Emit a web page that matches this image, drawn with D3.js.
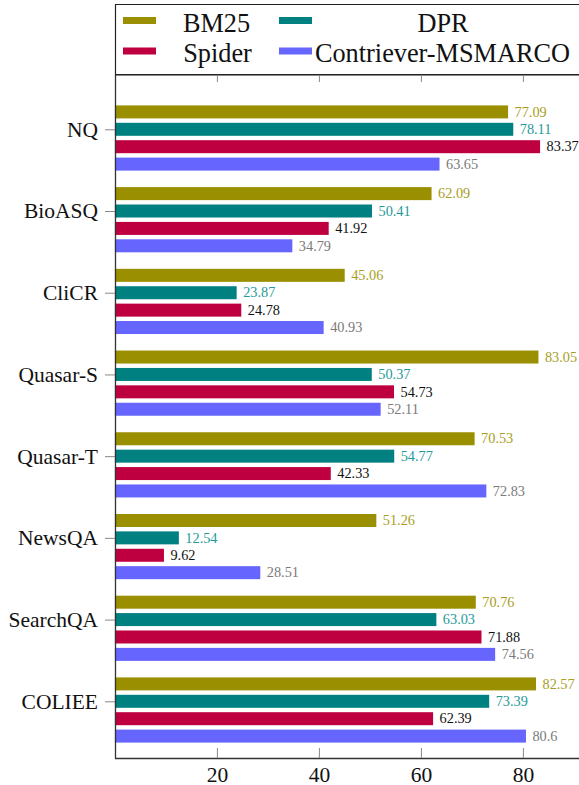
<!DOCTYPE html>
<html>
<head>
<meta charset="utf-8">
<script src="https://cdn.jsdelivr.net/npm/d3@7"></script>
<style>
  body { margin: 0; background: #fff; }
  svg { display: block; font-family: "Liberation Serif", "Times New Roman", serif; }
</style>
</head>
<body>
<div id="svg"></div>
<script>
var datasets = ["NQ", "BioASQ", "CliCR", "Quasar-S", "Quasar-T", "NewsQA", "SearchQA", "COLIEE"];
var methods = ["BM25", "DPR", "Spider", "Contriever-MSMARCO"];

var bm25       = [77.09, 62.09, 45.06, 83.05, 70.53, 51.26, 70.76, 82.57];
var dpr        = [78.11, 50.41, 23.87, 50.37, 54.77, 12.54, 63.03, 73.39];
var spider     = [83.37, 41.92, 24.78, 54.73, 42.33, 9.62, 71.88, 62.39];
var contriever = [63.65, 34.79, 40.93, 52.11, 72.83, 28.51, 74.56, 80.6];

var x_ticks = [20, 40, 60, 80];

var series = [bm25, dpr, spider, contriever];
var bar_colors = ["#998f00", "#008080", "#bf0040", "#6666ff"];
var label_colors = ["#a89e1c", "#1f9a9a", "#111111", "#7a7a7a"];

var width = 579;
var height = 785;

var left = 115;
var top_y = 75;
var bottom_y = 758;

var x_axis = d3.scaleLinear().domain([0, 90]).range([114.9, 114.9 + 459]);
var y_axis = d3.scaleLinear().domain([0, datasets.length - 1]).range([129.3, 701.3]);
// bar offset inside a group, tick sits on the second bar
var shift = d3.scaleLinear().domain([0, 3]).range([-17.4, 34.8]);
var bar_h = 13;

var svg = d3.select("#svg").append("svg")
  .attr("width", width)
  .attr("height", height);

// legend box
svg.append("path")
  .attr("d", "M" + (width + 5) + ",4.5H" + (left + 0.5) + "V74.5H" + (width + 5))
  .attr("fill", "none")
  .attr("stroke", "#222")
  .attr("stroke-width", 1.2);

var legend_pos = [
  {sx: 123, tx: 216.5, sy: 20.5, ty: 32},
  {sx: 279, tx: 443, sy: 20.5, ty: 32},
  {sx: 123, tx: 217.5, sy: 51, ty: 62},
  {sx: 279, tx: 442.5, sy: 51, ty: 62}
];

methods.forEach(function(m, i) {
  var p = legend_pos[i];
  svg.append("rect")
    .attr("x", p.sx).attr("y", p.sy - 3.5)
    .attr("width", 33).attr("height", 7)
    .attr("fill", bar_colors[i]);
  svg.append("text")
    .attr("x", p.tx).attr("y", p.ty)
    .attr("text-anchor", "middle")
    .attr("font-size", 26.3)
    .attr("fill", "#111")
    .text(m);
});

// bars
var plot = svg.append("g");

series.forEach(function(vals, s) {
  plot.selectAll(".bar" + s)
    .data(vals)
    .enter().append("rect")
    .attr("x", x_axis(0))
    .attr("y", function(d, i) { return y_axis(i) + shift(s) - bar_h / 2; })
    .attr("width", function(d) { return x_axis(d) - x_axis(0); })
    .attr("height", bar_h)
    .attr("fill", bar_colors[s]);

  plot.selectAll(".lab" + s)
    .data(vals)
    .enter().append("text")
    .attr("x", function(d) { return x_axis(d) + 6.5; })
    .attr("y", function(d, i) { return y_axis(i) + shift(s); })
    .attr("dy", "0.33em")
    .attr("font-size", 14.3)
    .attr("fill", label_colors[s])
    .text(function(d) { return String(d); });
});

// bottom axis
var bottom = svg.append("g")
  .attr("transform", "translate(0," + bottom_y + ")")
  .call(d3.axisBottom(x_axis).tickValues(x_ticks).tickSizeInner(-10).tickSizeOuter(0));
bottom.select(".domain").attr("d", "M" + x_axis(0) + ",0.5H" + (width + 5)).attr("stroke", "#333").attr("stroke-width", 1.3);
bottom.selectAll(".tick line").attr("stroke", "#888");
bottom.selectAll(".tick text")
  .attr("y", 23.5)
  .attr("dy", null)
  .attr("font-family", "Liberation Serif, serif")
  .attr("font-size", 21.5)
  .attr("fill", "#111");

// top axis (mirrored ticks, no labels)
var topax = svg.append("g")
  .attr("transform", "translate(0," + top_y + ")")
  .call(d3.axisTop(x_axis).tickValues(x_ticks).tickSizeInner(-7).tickSizeOuter(0).tickFormat(""));
topax.select(".domain").attr("d", "M" + x_axis(0) + ",0.5H" + (width + 5)).attr("stroke", "#888").attr("stroke-width", 1.2);
topax.selectAll(".tick line").attr("stroke", "#888");

// left axis with dataset names
var y_cat = d3.scaleOrdinal().domain(datasets).range(datasets.map(function(d, i) { return y_axis(i); }));
var leftax = svg.append("g")
  .attr("transform", "translate(" + left + ",0)")
  .call(d3.axisLeft(y_cat).tickSizeInner(10).tickSizeOuter(0).tickPadding(7));
leftax.select(".domain").attr("d", "M0.5," + top_y + "V" + bottom_y).attr("stroke", "#333").attr("stroke-width", 1.3);
leftax.selectAll(".tick line").attr("stroke", "#888");
leftax.selectAll(".tick text")
  .attr("font-family", "Liberation Serif, serif")
  .attr("font-size", 21.5)
  .attr("fill", "#111");
</script>
</body>
</html>
